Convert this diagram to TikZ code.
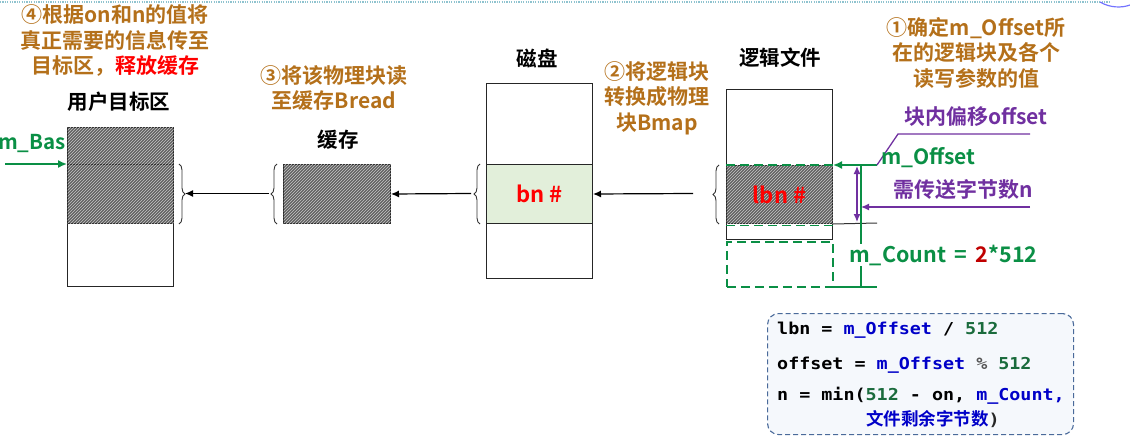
\documentclass[tikz,border=0pt]{standalone}
\usepackage{fontspec}
\setmainfont{Noto Sans CJK SC}[BoldFont={* Bold}]
\newfontfamily\cjk{Noto Sans CJK SC}[BoldFont={* Bold}]
\newfontfamily\codefont{DejaVu Sans Mono}[FakeStretch=1.12]
\usetikzlibrary{patterns,decorations.pathreplacing,arrows.meta,calc}
\definecolor{brn}{HTML}{B4701A}
\definecolor{grn}{HTML}{0A8F45}
\definecolor{prp}{HTML}{7030A0}
\definecolor{dred}{HTML}{C00000}
\definecolor{cblue}{HTML}{0000C8}
\definecolor{cgreen}{HTML}{1A6B3C}
\definecolor{cgray}{HTML}{555555}
\definecolor{cborder}{HTML}{4A6A9A}
\definecolor{cfill}{HTML}{F5F8FC}
\definecolor{lgreen}{HTML}{E2EFDA}
\definecolor{topdot}{HTML}{8FC3CF}
\begin{document}
\begin{tikzpicture}[x=1pt,y=-1pt,
  box/.style={draw=black!85, line width=1pt, fill=white, inner sep=0pt, anchor=north west, minimum width=106pt},
  hatch/.style={draw=black!85, line width=1pt, fill=black!62, postaction={pattern=north east lines, pattern color=black!22}, inner sep=0pt, anchor=north west, minimum width=106pt},
  txt/.style={font=\fontsize{21}{25.5}\selectfont\bfseries, align=center, inner sep=0pt},
  head/.style={font=\fontsize{20.5}{24}\selectfont\bfseries, inner sep=0pt, text=black},
  brc/.style={decorate, decoration={brace, amplitude=6pt}, draw=black!80, line width=0.9pt},
  arr/.style={draw=black, line width=1.2pt, -{Latex[length=8pt,width=7pt]}},
  garr/.style={draw=grn, line width=1.6pt, -{Latex[length=9pt,width=8pt]}},
  gline/.style={draw=grn, line width=1.4pt},
  gdash/.style={draw=grn, line width=1.6pt, dash pattern=on 9pt off 5pt},
  pline/.style={draw=prp, line width=1.3pt},
  parr/.style={draw=prp, line width=1.3pt, -{Latex[length=8pt,width=7pt]}},
  codeln/.style={anchor=west, inner sep=0pt, font=\codefont\fontsize{16.4}{18}\selectfont\bfseries}
]
\useasboundingbox (0,0) rectangle (1130,447);
% slide artifact at top
\draw[topdot, line width=1.5pt, dash pattern=on 1.2pt off 1.2pt] (0,2) -- (1110,2);
\draw[blue!55, line width=1.2pt] (1100,2) .. controls (1110,8) and (1122,8) .. (1130,5);

% ---- step texts ----
\node[txt, text=brn] (s4) at (115,41) {④根据on和n的值将\\真正需要的信息传至\\目标区，\textcolor{red}{释放缓存}};
\node[txt, text=brn] (s3) at (334,88) {③将该物理块读\\至缓存Bread};
\node[txt, text=brn] (s2) at (657,98) {②将逻辑块\\转换成物理\\块Bmap};
\node[txt, text=brn] (s1) at (976,52.5) {①确定m\_Offset所\\在的逻辑块及各个\\读写参数的值};

% ---- headings ----
\node[head] (hu) at (119,102) {用户目标区};
\node[head] (hc) at (338,140) {缓存};
\node[head] (hd) at (537,58) {磁盘};
\node[head] (hl) at (780,58) {逻辑文件};

% ---- user target area ----
\node[txt, anchor=east, text=grn, font=\fontsize{20.5}{24}\selectfont\bfseries] (mbas) at (66,143) {m\_Bas};
\node[box, minimum height=159pt] (ubox) at (67,127) {};
\node[hatch, minimum height=37pt] (utop) at (67,127) {};
\node[hatch, minimum height=59pt] (ublk) at (67,164) {};
\coordinate (mbstart) at (5,164);
\draw[garr] (mbstart) -- (ublk.north west);

% ---- cache ----
\node[hatch, minimum width=107pt, minimum height=59pt] (cache) at (283,164) {};

% ---- disk ----
\node[box, minimum height=195pt] (disk) at (486,83) {};
\node[box, fill=lgreen, minimum height=59pt, text=red, font=\fontsize{22}{24}\selectfont\bfseries] (dblk) at (486,164) {bn \#};

% ---- logic file ----
\node[box, minimum height=150pt] (lfile) at (726,89) {};
\node[hatch, minimum height=58pt, text=red, font=\fontsize{22}{24}\selectfont\bfseries] (lblk) at (726,165) {lbn \#};
\draw[gdash] (lblk.north west) -- (lblk.north east);
\draw[gdash] ($(lblk.south west)+(0,1.5)$) -- ($(lblk.south east)+(0,1.5)$);
\node[draw=grn, line width=1.6pt, dash pattern=on 9pt off 5pt, anchor=north west, minimum width=106pt, minimum height=45pt, inner sep=0pt] (lnext) at (726,241) {};

% ---- braces ----
\draw[brc] ($(ublk.north east)+(5,0)$) -- ($(ublk.south east)+(5,0)$);
\draw[brc] ($(cache.south west)+(-6,0)$) -- ($(cache.north west)+(-6,0)$);
\draw[brc] ($(dblk.south west)+(-6,0)$) -- ($(dblk.north west)+(-6,0)$);
\draw[brc] ($(lblk.south west)+(-7,0)$) -- ($(lblk.north west)+(-7,0)$);
\coordinate (utip) at (185,193.5);
\coordinate (ctip) at (269,193.5);
\coordinate (dtip) at (471,193.5);
\coordinate (ltip) at (693,193.5);

% ---- data flow arrows ----
\draw[arr] (ctip) -- (utip);
\draw[arr] (dtip) -- (cache.east);
\draw[arr] (ltip) -- (dblk.east);

% ---- right-side annotations ----
\coordinate (moff) at (877,165);
\coordinate (pA) at (1030,134);
\coordinate (pB) at (898,134);
\coordinate (cntTop) at (861,165);
\coordinate (cntBot) at (861,287);
\coordinate (cntL) at (832,287);
\coordinate (cntR) at (877,287);
\coordinate (blkR) at (877,223);
\coordinate (nTop) at (857,166);
\coordinate (nBot) at (857,222);
\coordinate (nStart) at (1030,207);
\coordinate (nEnd) at (861,207);

\draw[black!80, line width=1pt] (lblk.south east) -- (blkR);
\draw[gline] (cntTop) -- (cntBot);
\draw[gline] (cntL) -- (cntR);
\draw[garr] (moff) -- (lblk.north east);
\draw[pline] (pA) -- (pB) -- (moff);
\draw[prp, line width=1.3pt, {Latex[length=8pt,width=7pt]}-{Latex[length=8pt,width=7pt]}] (nTop) -- (nBot);
\draw[parr] (nStart) -- (nEnd);

\node[txt, text=prp] (toff) at (976,117) {块内偏移offset};
\node[txt, text=grn, anchor=west, font=\fontsize{21}{24}\selectfont\bfseries] (tmoff) at (881,158) {m\_Offset};
\node[txt, text=prp] (tn) at (963,190) {需传送字节数n};
\node[txt, text=grn, anchor=west, fill=white, inner sep=1pt, font=\fontsize{21.5}{24}\selectfont\bfseries] (tcount) at (848,255) {m\_Count\, =\, \textcolor{dred}{2}*512};

% ---- code box ----
\node[draw=cborder, line width=1.1pt, dash pattern=on 5pt off 3pt, rounded corners=11pt, fill=cfill, anchor=north west, minimum width=306pt, minimum height=121pt, inner sep=0pt] (code) at (767,313) {};
\node[codeln] (c1) at (777,330) {lbn = \textcolor{cblue}{m\_Offset} / \textcolor{cgreen}{512}};
\node[codeln] (c2) at (777,365) {offset = \textcolor{cblue}{m\_Offset} \textcolor{cgray}{\%} \textcolor{cgreen}{512}};
\node[codeln] (c3) at (777,396) {n = min(\textcolor{cgreen}{512} - on, \textcolor{cblue}{m\_Count,}};
\node[codeln, text=cblue] (c4) at (866,419) {{\cjk\fontsize{17.5}{18}\selectfont 文件剩余字节数}\textcolor{black!85}{)}};
\end{tikzpicture}
\end{document}
